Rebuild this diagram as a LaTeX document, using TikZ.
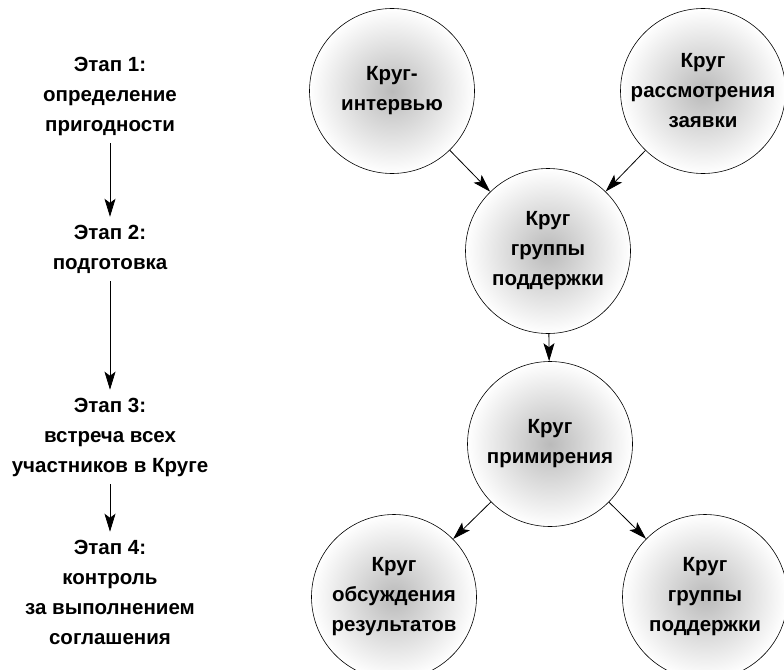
\documentclass[tikz,border=0pt]{standalone}
\usepackage{fontspec}
\setmainfont{Liberation Sans}
\usetikzlibrary{arrows.meta}
\begin{document}
\begin{tikzpicture}[x=1pt,y=-1pt,
  txt/.style={font=\bfseries\fontsize{20.5}{30}\selectfont, align=center, inner sep=2pt},
  krug/.style={txt, circle, draw, line width=0.6pt, minimum size=165pt, inner sep=0pt,
    inner color=black!27, outer color=white},
  arr/.style={line width=0.8pt, -{Stealth[length=18pt,width=11pt,inset=4pt]}},
  stage/.style={txt, outer sep=6pt}
]
\useasboundingbox (0,0) rectangle (784,669);
% left column
\node[stage] (s1) at (110,96) {Этап 1:\\определение\\пригодности};
\node[stage] (s2) at (110,249) {Этап 2:\\подготовка};
\node[stage] (s3) at (110,437) {Этап 3:\\встреча всех\\участников в Круге};
\node[stage] (s4) at (110,592) {Этап 4:\\контроль\\за выполнением\\соглашения};
\draw[arr] (s1) -- (s2);
\draw[arr] (s2) -- (s3);
\draw[arr] (s3) -- (s4);
% circles
\node[krug] (c1) at (392,91) {Круг-\\интервью};
\node[krug] (c2) at (703,91) {Круг\\рассмотрения\\заявки};
\node[krug] (c3) at (548,251) {Круг\\группы\\поддержки};
\node[krug] (c4) at (550,444) {Круг\\примирения};
\node[krug] (c5) at (394,597) {Круг\\обсуждения\\результатов};
\node[krug] (c6) at (705,597) {Круг\\группы\\поддержки};
\draw[arr] (c1) -- (c3);
\draw[arr] (c2) -- (c3);
\draw[arr] (c3) -- (c4);
\draw[arr] (c4) -- (c5);
\draw[arr] (c4) -- (c6);
\end{tikzpicture}
\end{document}
